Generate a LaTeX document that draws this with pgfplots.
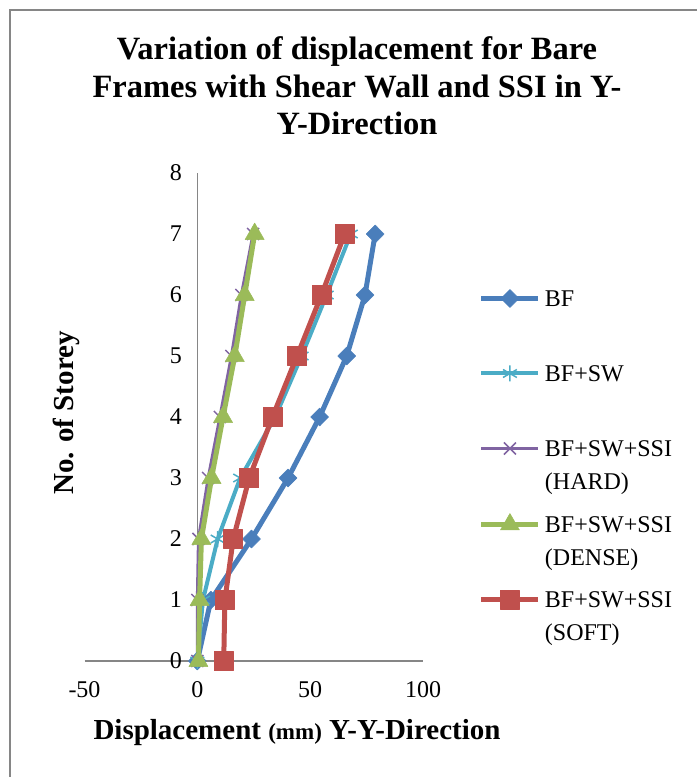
\documentclass[border=0pt]{standalone}
\usepackage{pgfplots}
\pgfplotsset{compat=1.18}
\usepackage{fontspec}
\setmainfont{Liberation Serif}
\definecolor{cBF}{RGB}{74,126,187}
\definecolor{cSW}{RGB}{75,172,198}
\definecolor{cHA}{RGB}{128,100,162}
\definecolor{cDE}{RGB}{155,187,89}
\definecolor{cSO}{RGB}{192,80,77}
\definecolor{cAx}{RGB}{134,134,134}
\newcommand{\lgt}[2]{\begin{tabular}[t]{@{}l@{}}#1\\#2\end{tabular}}
\begin{document}
\begin{tikzpicture}
\path[use as bounding box] (0pt,0pt) rectangle (697pt,777pt);
\draw[cAx, line width=1.5pt] (10pt,0pt) -- (10pt,767pt) -- (697pt,767pt);
\node[align=center, font=\bfseries\fontsize{32.5}{37.5}\selectfont] at (357pt,691pt)
 {Variation of displacement for Bare\\Frames with Shear Wall and SSI in Y-\\Y-Direction};
\node[rotate=90, font=\bfseries\fontsize{29}{30}\selectfont] at (66pt,364pt) {No. of Storey};
\node[font=\bfseries\fontsize{29}{30}\selectfont] at (297pt,44pt)
 {Displacement {\fontsize{23}{24}\selectfont (mm)} Y-Y-Direction};
\begin{axis}[
  at={(84.5pt,116pt)}, anchor=south west,
  scale only axis, width=338.5pt, height=488pt,
  xmin=-50, xmax=100, ymin=0, ymax=8,
  axis lines=middle,
  hide obscured x ticks=false, hide obscured y ticks=false,
  every inner x axis line/.append style={-},
  every inner y axis line/.append style={-},
  axis line style={cAx, line width=1.5pt},
  xtick={-50,0,50,100}, ytick={0,1,...,8},
  major tick length=0pt,
  /pgf/number format/assume math mode=true,
  tick label style={font=\fontsize{24}{28}\selectfont},
  xticklabel style={anchor=north, yshift=-17pt},
  yticklabel style={anchor=east, xshift=-12pt},
  clip=false,
  legend image code/.code={\draw[mark repeat=2,mark phase=2,#1] plot coordinates {(0pt,8pt)(28.5pt,8pt)(57pt,8pt)};},
  legend style={at={(axis cs:124.7,6.11)}, anchor=north west, draw=none, fill=none,
    inner sep=0pt, row sep=9pt, column sep=4pt,
    font=\fontsize{24}{33}\selectfont,
    nodes={inner sep=0pt, text height=18pt, text depth=48pt},
    cells={anchor=base west}},
]
\addplot[cBF, line width=5pt, line join=round, mark=diamond*, mark size=9pt,
  mark options={solid, line width=0.5pt, xscale=1.33}]
  coordinates {(0,0)(6,1)(24,2)(40.2,3)(54.2,4)(66.2,5)(74.3,6)(78.8,7)};
\addlegendentry{\lgt{BF}{\mbox{}}}
\addplot[cSW, line width=4pt, line join=round, mark=asterisk, mark size=8pt,
  mark options={solid, line width=1.5pt}]
  coordinates {(0,0)(2.5,1)(9,2)(19,3)(34.5,4)(46.2,5)(57.3,6)(68,7)};
\addlegendentry{\lgt{BF+SW}{\mbox{}}}
\addplot[cHA, line width=3pt, line join=round, mark=x, mark size=8.5pt,
  mark options={solid, line width=1.5pt}]
  coordinates {(0,0)(0,1)(0.5,2)(4.8,3)(10,4)(15.1,5)(19.5,6)(24.7,7)};
\addlegendentry{\lgt{BF+SW+SSI}{(HARD)}}
\addplot[cDE, line width=5pt, line join=round, mark=triangle*, mark size=11pt,
  mark options={solid, line width=0.5pt}]
  coordinates {(0.5,0)(1,1)(1.8,2)(6.3,3)(11.4,4)(16.6,5)(21,6)(25.4,7)};
\addlegendentry{\lgt{BF+SW+SSI}{(DENSE)}}
\addplot[cSO, line width=5pt, line join=round, mark=square*, mark size=9.5pt,
  mark options={solid, line width=0.5pt}]
  coordinates {(11.7,0)(12.2,1)(15.9,2)(23,3)(33.3,4)(44.2,5)(55,6)(65.3,7)};
\addlegendentry{\lgt{BF+SW+SSI}{(SOFT)}}
\end{axis}
\end{tikzpicture}
\end{document}
